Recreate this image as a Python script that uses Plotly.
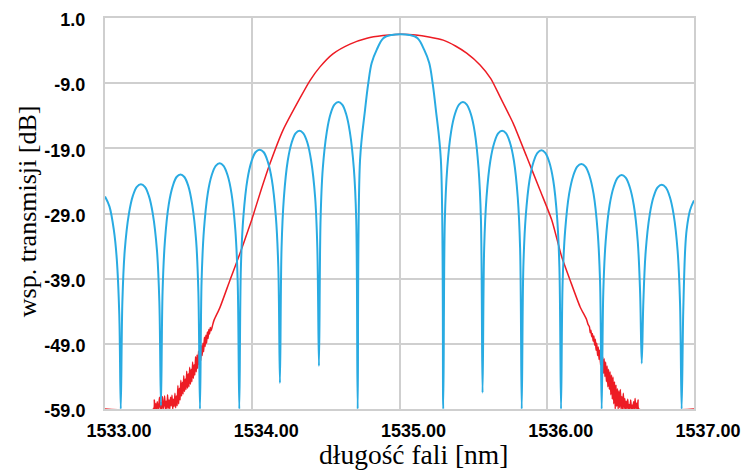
import plotly.graph_objects as go

# ---------------- data ----------------
x_tick_vals = [1533.0, 1534.0, 1535.0, 1536.0, 1537.0]
x_tick_text = ["1533.00", "1534.00", "1535.00", "1536.00", "1537.00"]
y_tick_vals = [1.0, -9.0, -19.0, -29.0, -39.0, -49.0, -59.0]
y_tick_text = ["1.0", "-9.0", "-19.0", "-29.0", "-39.0", "-49.0", "-59.0"]

x_title = "długość fali [nm]"
y_title = "wsp. transmisji [dB]"

# blue curve: transmission with side lobes (wavelength nm, dB)
blue_x = [
    1533.000, 1533.030, 1533.060, 1533.080, 1533.097, 1533.107,
    1533.118, 1533.134, 1533.162, 1533.189, 1533.216, 1533.244, 1533.271, 1533.298, 1533.325, 1533.353, 1533.369, 1533.380,
    1533.391, 1533.407, 1533.433, 1533.460, 1533.486, 1533.513, 1533.539, 1533.566, 1533.592, 1533.619, 1533.634, 1533.645,
    1533.656, 1533.672, 1533.698, 1533.725, 1533.752, 1533.779, 1533.805, 1533.832, 1533.859, 1533.885, 1533.901, 1533.912,
    1533.923, 1533.940, 1533.967, 1533.995, 1534.022, 1534.050, 1534.078, 1534.105, 1534.133, 1534.160, 1534.177, 1534.188,
    1534.199, 1534.215, 1534.241, 1534.268, 1534.294, 1534.321, 1534.347, 1534.374, 1534.400, 1534.427, 1534.442, 1534.453,
    1534.464, 1534.479, 1534.506, 1534.532, 1534.558, 1534.585, 1534.611, 1534.637, 1534.663, 1534.690, 1534.706, 1534.716,
    1534.732, 1534.766, 1534.788, 1534.811, 1534.845, 1534.890, 1534.947, 1535.006, 1535.066, 1535.123, 1535.168, 1535.202,
    1535.225, 1535.247, 1535.281, 1535.297,
    1535.308, 1535.324, 1535.350, 1535.377, 1535.404, 1535.431, 1535.457, 1535.484, 1535.511, 1535.537, 1535.553, 1535.564,
    1535.575, 1535.591, 1535.617, 1535.644, 1535.670, 1535.697, 1535.724, 1535.750, 1535.777, 1535.803, 1535.819, 1535.830,
    1535.841, 1535.857, 1535.883, 1535.910, 1535.937, 1535.964, 1535.990, 1536.017, 1536.044, 1536.070, 1536.086, 1536.097,
    1536.108, 1536.125, 1536.152, 1536.180, 1536.207, 1536.235, 1536.263, 1536.290, 1536.318, 1536.345, 1536.362, 1536.373,
    1536.384, 1536.400, 1536.427, 1536.455, 1536.482, 1536.509, 1536.536, 1536.563, 1536.591, 1536.618, 1536.634, 1536.645,
    1536.656, 1536.672, 1536.699, 1536.726, 1536.753, 1536.781, 1536.808, 1536.835, 1536.862, 1536.889, 1536.905, 1536.916,
    1536.927, 1536.940, 1536.950, 1536.973, 1537.000,
]
blue_y = [
    -26.4, -27.9, -31.5, -36.0, -44.5, -59.0,
    -42.5, -34.7, -29.1, -26.3, -24.9, -24.5, -24.9, -26.3, -29.1, -34.7, -42.5, -58.5,
    -41.0, -33.2, -27.6, -24.8, -23.4, -23.0, -23.4, -24.8, -27.6, -33.2, -41.0, -59.0,
    -39.3, -31.5, -25.9, -23.1, -21.7, -21.3, -21.7, -23.1, -25.9, -31.5, -39.3, -59.0,
    -37.2, -29.4, -23.8, -21.0, -19.6, -19.2, -19.6, -21.0, -23.8, -29.4, -37.2, -55.0,
    -34.3, -26.5, -20.9, -18.1, -16.7, -16.3, -16.7, -18.1, -20.9, -26.5, -34.3, -52.4,
    -29.9, -22.1, -16.5, -13.7, -12.3, -11.9, -12.3, -13.7, -16.5, -22.1, -29.9, -59.0,
    -20.8, -13.1, -9.0, -5.9, -3.9, -2.1, -1.6, -1.5, -1.6, -2.1, -3.9, -5.9,
    -9.0, -13.1, -20.8, -59.0,
    -29.9, -22.1, -16.5, -13.7, -12.3, -11.9, -12.3, -13.7, -16.5, -22.1, -29.9, -56.5,
    -34.3, -26.5, -20.9, -18.1, -16.7, -16.3, -16.7, -18.1, -20.9, -26.5, -34.3, -59.0,
    -37.3, -29.5, -23.9, -21.1, -19.7, -19.3, -19.7, -21.1, -23.9, -29.5, -37.3, -59.0,
    -39.4, -31.6, -26.0, -23.2, -21.8, -21.4, -21.8, -23.2, -26.0, -31.6, -39.4, -59.0,
    -41.1, -33.3, -27.7, -24.9, -23.5, -23.1, -23.5, -24.9, -27.7, -33.3, -41.1, -52.0,
    -42.6, -34.8, -29.2, -26.4, -25.0, -24.6, -25.0, -26.4, -29.2, -34.8, -42.6, -59.0,
    -44.0, -34.5, -31.5, -28.5, -27.0,
]

# red curve: apodized transmission with noisy skirts (wavelength nm, dB)
red_x = [
    1533.000, 1533.330,
    1533.335, 1533.340, 1533.345, 1533.350, 1533.355, 1533.360, 1533.365, 1533.370, 1533.375, 1533.380,
    1533.385, 1533.390, 1533.395, 1533.400, 1533.405, 1533.410, 1533.415, 1533.420, 1533.425, 1533.430,
    1533.435, 1533.440, 1533.445, 1533.450, 1533.455, 1533.460, 1533.465, 1533.470, 1533.475, 1533.480,
    1533.485, 1533.490, 1533.495, 1533.500, 1533.505, 1533.510, 1533.515, 1533.520, 1533.525, 1533.530,
    1533.535, 1533.540, 1533.545, 1533.550, 1533.555, 1533.560, 1533.565, 1533.570, 1533.575, 1533.580,
    1533.585, 1533.590, 1533.595, 1533.600, 1533.605, 1533.610, 1533.615, 1533.620, 1533.625, 1533.630,
    1533.635, 1533.640, 1533.645, 1533.650, 1533.655, 1533.660, 1533.665, 1533.670, 1533.675, 1533.680,
    1533.685, 1533.690, 1533.695, 1533.700, 1533.705, 1533.710, 1533.715, 1533.720, 1533.730, 1533.740,
    1533.781, 1533.849, 1533.917, 1533.973, 1533.996, 1534.060, 1534.121, 1534.209, 1534.324, 1534.392,
    1534.460, 1534.548, 1534.664, 1534.779, 1534.888, 1535.003, 1535.110, 1535.200,
    1535.297, 1535.380, 1535.456, 1535.547, 1535.620, 1535.683, 1535.773, 1535.864,
    1535.954, 1536.034, 1536.101, 1536.158, 1536.226, 1536.271,
    1536.280, 1536.290, 1536.295, 1536.300, 1536.305, 1536.310, 1536.315, 1536.320, 1536.325, 1536.330,
    1536.335, 1536.340, 1536.345, 1536.350, 1536.355, 1536.360, 1536.365, 1536.370, 1536.375, 1536.380,
    1536.385, 1536.390, 1536.395, 1536.400, 1536.405, 1536.410, 1536.415, 1536.420, 1536.425, 1536.430,
    1536.435, 1536.440, 1536.445, 1536.450, 1536.455, 1536.460, 1536.465, 1536.470, 1536.475, 1536.480,
    1536.485, 1536.490, 1536.495, 1536.500, 1536.505, 1536.510, 1536.515, 1536.520, 1536.525, 1536.530,
    1536.535, 1536.540, 1536.545, 1536.550, 1536.555, 1536.560, 1536.565, 1536.570, 1536.575, 1536.580,
    1536.585, 1536.590, 1536.595, 1536.600, 1536.605, 1536.610, 1536.615, 1536.620, 1536.625,
    1537.000,
]
red_y = [
    -59.0, -59.0,
    -57.6, -59.0, -58.2, -59.0, -57.9, -59.0, -58.6, -57.2, -59.0, -58.0,
    -59.0, -57.1, -59.0, -58.3, -57.0, -59.0, -57.8, -59.0, -56.8, -58.9,
    -57.6, -59.0, -57.2, -58.5, -56.9, -59.0, -57.5, -58.6, -56.6, -58.8,
    -57.0, -58.5, -55.4, -58.2, -55.8, -57.6, -54.6, -57.0, -54.9, -56.7,
    -53.9, -56.3, -54.4, -56.0, -53.2, -55.8, -53.6, -55.6, -52.6, -55.2,
    -52.9, -54.8, -51.8, -54.3, -52.2, -53.8, -51.0, -53.3, -50.7, -52.8,
    -50.1, -52.2, -49.9, -51.6, -49.3, -50.8, -48.9, -50.2, -48.0, -49.4,
    -47.7, -48.9, -47.2, -48.2, -46.8, -47.5, -46.5, -47.0, -46.2, -45.4,
    -43.4, -39.2, -35.1, -31.5, -30.0, -25.4, -21.3, -16.2, -11.3, -8.6,
    -6.5, -4.5, -3.0, -2.1, -1.7, -1.5, -1.6, -1.9,
    -2.4, -3.3, -4.4, -6.2, -8.3, -11.1, -15.2, -20.3,
    -25.4, -30.0, -35.6, -39.2, -43.3, -45.3,
    -46.0, -46.4, -47.3, -46.9, -47.9, -47.4, -48.6, -47.8, -49.2, -48.3,
    -50.0, -48.9, -50.8, -49.5, -51.4, -50.0, -52.2, -50.4, -52.8, -51.0,
    -53.5, -51.3, -54.0, -51.8, -54.8, -52.4, -55.6, -52.9, -56.0, -53.3,
    -56.8, -53.8, -57.5, -54.1, -58.2, -54.8, -59.0, -55.3, -58.6, -55.9,
    -59.0, -56.2, -58.8, -56.0, -59.0, -57.1, -59.0, -56.6, -59.0, -57.4,
    -59.0, -57.8, -59.0, -57.5, -59.0, -58.3, -59.0, -57.6, -59.0, -58.4,
    -59.0, -57.9, -59.0, -57.4, -59.0, -58.1, -59.0, -57.6, -59.0,
    -59.0,
]

# ---------------- styles ----------------
BLUE = "#29abe2"
RED = "#ed1c24"
GRID = "#cfcfcf"

fig = go.Figure()
fig.add_trace(go.Scatter(x=red_x, y=red_y, mode="lines",
                         line=dict(color=RED, width=1.5, shape="spline", smoothing=0.6),
                         showlegend=False))
fig.add_trace(go.Scatter(x=blue_x, y=blue_y, mode="lines",
                         line=dict(color=BLUE, width=2, shape="spline", smoothing=1.0),
                         showlegend=False))

tick_font = dict(family="Liberation Sans, Arial, sans-serif", size=18, color="black", weight="bold")
x_title_font = dict(family="Liberation Serif, Times New Roman, serif", size=27.5, color="black")
y_title_font = dict(family="Liberation Serif, Times New Roman, serif", size=26, color="black")

fig.update_layout(
    width=745, height=474,
    margin=dict(l=105, r=51, t=18, b=65, autoexpand=False),
    paper_bgcolor="white", plot_bgcolor="white",
    showlegend=False,
    xaxis=dict(range=[1533.0, 1537.0], tickmode="array", tickvals=x_tick_vals, ticktext=x_tick_text,
               showgrid=True, gridcolor=GRID, gridwidth=2, zeroline=False,
               showline=True, linecolor=GRID, linewidth=2, mirror=True,
               ticks="", tickfont=tick_font, ticklabelshift=14, ticklabelstandoff=4),
    yaxis=dict(range=[-59.0, 1.0], tickmode="array", tickvals=y_tick_vals, ticktext=y_tick_text,
               showgrid=True, gridcolor=GRID, gridwidth=2, zeroline=False,
               showline=True, linecolor=GRID, linewidth=2, mirror=True,
               ticks="", tickfont=tick_font, ticklabelshift=2, ticklabelstandoff=14),
    annotations=[
        dict(text=x_title, xref="paper", yref="paper", x=0.5246, y=0, xanchor="center", yanchor="middle",
             yshift=-45, showarrow=False, font=x_title_font),
        dict(text=y_title, xref="paper", yref="paper", x=0, y=0.506, xanchor="center", yanchor="middle",
             xshift=-78, textangle=-90, showarrow=False, font=y_title_font),
    ],
)

fig.write_html("out.html", config={"displayModeBar": False},
               post_script="document.body.style.margin='0px';")
